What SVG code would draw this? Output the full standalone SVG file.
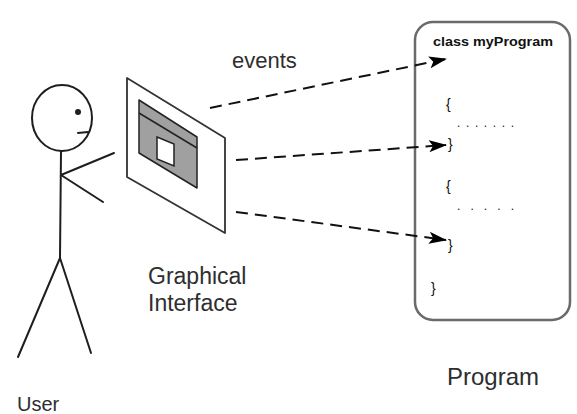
<svg xmlns="http://www.w3.org/2000/svg" width="577" height="414" viewBox="0 0 577 414">
  <style>
    .ink { fill: none; stroke: #1e1e1e; stroke-width: 2; stroke-linecap: round; stroke-linejoin: round; }
    .label { font-family: "Liberation Sans", Arial, sans-serif; fill: #2e2e2e; }
    .code { font-family: "Liberation Sans", Arial, sans-serif; fill: #111; }
    .event { fill: none; stroke: #111; stroke-width: 2; stroke-dasharray: 12 7; }
  </style>
  <defs>
    <marker id="arrow" viewBox="0 0 18 12" refX="17" refY="6" markerWidth="18" markerHeight="12" markerUnits="userSpaceOnUse" orient="auto">
      <path d="M0,0 L18,6 L0,12 L4,6 z" fill="#000"/>
    </marker>
  </defs>

  <rect width="577" height="414" fill="#fff"/>

  <!-- Stick-figure user -->
  <g id="user">
    <ellipse class="ink" cx="62" cy="118" rx="30" ry="33"/>
    <circle cx="78" cy="112" r="3" fill="#1e1e1e"/>
    <line class="ink" x1="78" y1="133" x2="88" y2="132"/>
    <line class="ink" x1="61" y1="151" x2="60" y2="258"/>
    <line class="ink" x1="61" y1="175" x2="114" y2="153"/>
    <line class="ink" x1="61" y1="175" x2="103" y2="202"/>
    <line class="ink" x1="60" y1="258" x2="18" y2="357"/>
    <line class="ink" x1="60" y1="258" x2="91" y2="353"/>
    <text class="label" x="17" y="411" font-size="20">User</text>
  </g>

  <!-- Graphical interface panel -->
  <g id="gui">
    <path d="M127,78 L225,138 L225,233 L127,177 z" fill="#fff" stroke="#333" stroke-width="1.8" stroke-linejoin="round"/>
    <path d="M139,100 L197,137 L197,188 L139,153 z" fill="#a0a0a0" stroke="#222" stroke-width="1.5" stroke-linejoin="round"/>
    <line x1="139" y1="113" x2="197" y2="148" stroke="#222" stroke-width="1.5"/>
    <path d="M157,137 L174,144 L174,166 L157,159 z" fill="#fff" stroke="#222" stroke-width="1.5"/>
    <text class="label" x="148" y="284" font-size="23">Graphical</text>
    <text class="label" x="148" y="311" font-size="23">Interface</text>
  </g>

  <!-- Program listing -->
  <g id="program">
    <rect x="415" y="22" width="155" height="298" rx="18" ry="18" fill="#fff" stroke="#6a6a6a" stroke-width="2.5"/>
    <text class="code" x="433" y="46" font-size="12" font-weight="bold" textLength="120" lengthAdjust="spacingAndGlyphs">class myProgram</text>
    <text class="code" x="446" y="109" font-size="14">{</text>
    <text class="code" x="457" y="127" font-size="12" textLength="57" lengthAdjust="spacing">.......</text>
    <text class="code" x="448" y="149" font-size="14">}</text>
    <text class="code" x="446" y="191" font-size="14">{</text>
    <text class="code" x="457" y="210" font-size="12" textLength="57" lengthAdjust="spacing">.....</text>
    <text class="code" x="448" y="250" font-size="14">}</text>
    <text class="code" x="431" y="293" font-size="14">}</text>
    <text class="label" x="447" y="385" font-size="24">Program</text>
  </g>

  <!-- Event connectors -->
  <g id="connectors">
    <line class="event" x1="210" y1="108" x2="446" y2="59" marker-end="url(#arrow)"/>
    <line class="event" x1="236" y1="160" x2="446" y2="145" marker-end="url(#arrow)"/>
    <line class="event" x1="236" y1="212" x2="446" y2="240" marker-end="url(#arrow)"/>
    <text class="label" x="232" y="68" font-size="22">events</text>
  </g>
</svg>
